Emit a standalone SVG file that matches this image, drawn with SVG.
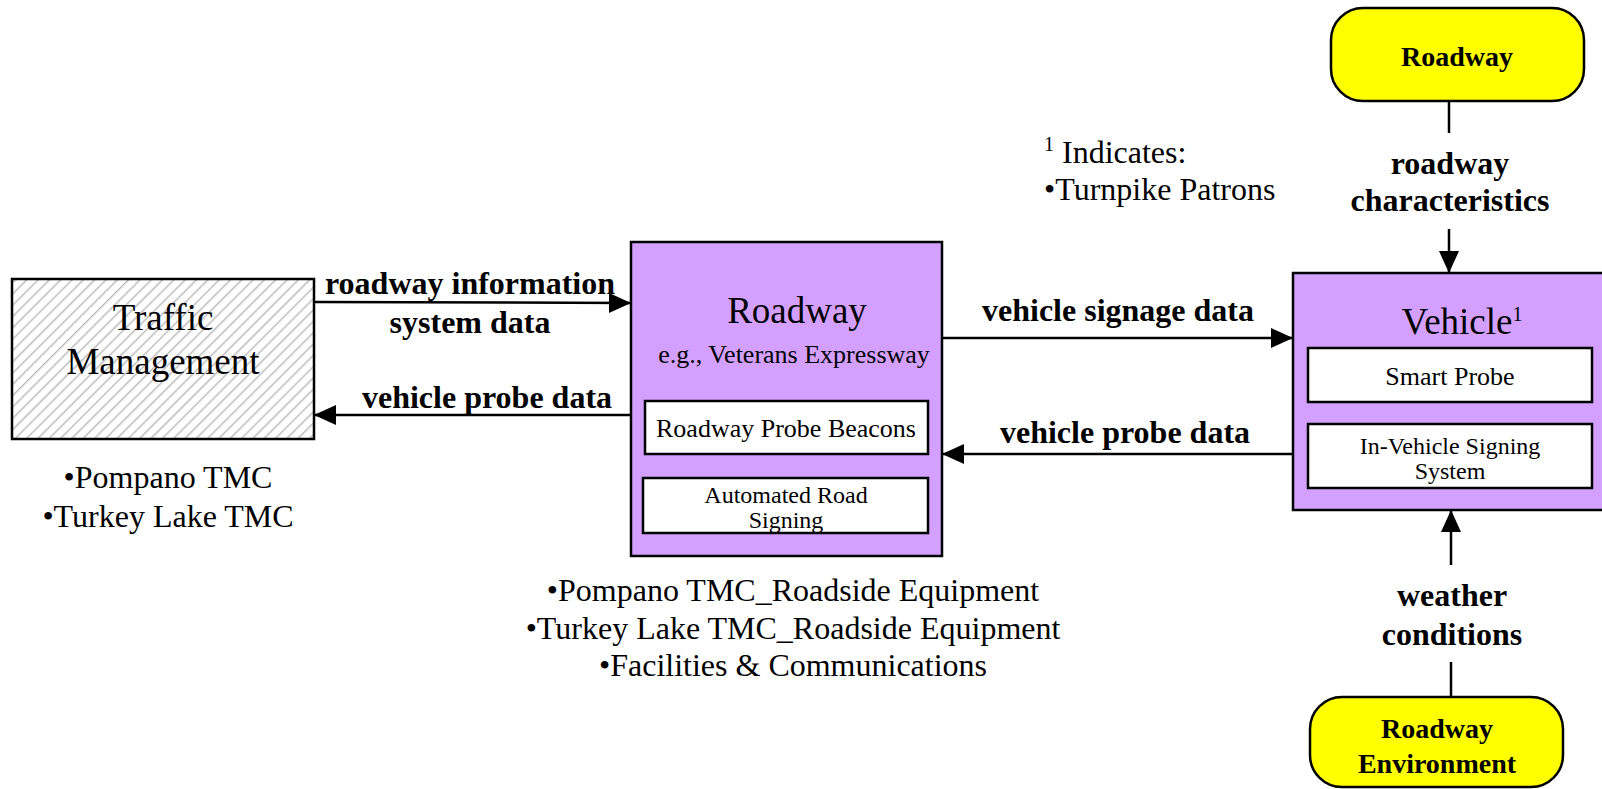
<svg xmlns="http://www.w3.org/2000/svg" width="1602" height="789" viewBox="0 0 1602 789">
<defs>
<style>
text{font-family:"Liberation Serif","Times New Roman",serif;fill:#000}
.hdr{font-size:37px;text-anchor:middle}
.sub{font-size:26px;text-anchor:middle}
.sub2{font-size:24px;text-anchor:middle}
.bul{font-size:32px}
.lbl{font-size:32px;font-weight:bold;text-anchor:middle}
.ext{font-size:28px;font-weight:bold;text-anchor:middle}
.box{stroke:#000;stroke-width:2.5}
.purple{fill:#D4A0FF}
.inner{fill:#fff;stroke:#000;stroke-width:2.5}
.yellow{fill:#FFFF00;stroke:#000;stroke-width:2.5}
.conn{stroke:#000;stroke-width:2.5;fill:none}
</style>
<pattern id="hatch" patternUnits="userSpaceOnUse" width="8" height="8" patternTransform="rotate(45)">
<rect width="8" height="8" fill="#fff"/>
<line x1="0" y1="0" x2="0" y2="8" stroke="#BDBDBD" stroke-width="3"/>
</pattern>
<marker id="arr" markerUnits="userSpaceOnUse" markerWidth="24" markerHeight="20" refX="22" refY="10" orient="auto">
<path d="M0,0 L22,10 L0,20 Z" fill="#000"/>
</marker>
</defs>

<g id="traffic-management">
<rect class="box" x="12" y="279" width="302" height="160" fill="url(#hatch)"/>
<text class="hdr" x="163" y="330">Traffic</text>
<text class="hdr" x="163" y="374">Management</text>
<text class="bul" x="168" y="488" text-anchor="middle">•Pompano TMC</text>
<text class="bul" x="168" y="527" text-anchor="middle">•Turkey Lake TMC</text>
</g>

<g id="roadway">
<rect class="box purple" x="631" y="242" width="311" height="314"/>
<text class="hdr" x="797" y="323">Roadway</text>
<text class="sub" x="794" y="363" font-size="27">e.g., Veterans Expressway</text>
<rect class="inner" x="645" y="401" width="283" height="53"/>
<text class="sub" x="786" y="437">Roadway Probe Beacons</text>
<rect class="inner" x="643" y="478" width="285" height="55"/>
<text class="sub2" x="786" y="503">Automated Road</text>
<text class="sub2" x="786" y="528">Signing</text>
<text class="bul" x="793" y="601" text-anchor="middle">•Pompano TMC_Roadside Equipment</text>
<text class="bul" x="793" y="639" text-anchor="middle">•Turkey Lake TMC_Roadside Equipment</text>
<text class="bul" x="793" y="676" text-anchor="middle">•Facilities &amp; Communications</text>
</g>

<g id="vehicle">
<rect class="box purple" x="1293" y="273" width="320" height="237"/>
<text class="hdr" x="1462" y="334">Vehicle<tspan font-size="20" dy="-13">1</tspan></text>
<rect class="inner" x="1308" y="348" width="284" height="54"/>
<text class="sub" x="1450" y="385">Smart Probe</text>
<rect class="inner" x="1308" y="424" width="284" height="64"/>
<text class="sub2" x="1450" y="454">In-Vehicle Signing</text>
<text class="sub2" x="1450" y="479">System</text>
</g>

<g id="roadway-source">
<rect class="yellow" x="1331" y="8" width="253" height="93" rx="32" ry="32"/>
<text class="ext" x="1457" y="66">Roadway</text>
</g>

<g id="roadway-environment">
<rect class="yellow" x="1310" y="697" width="253" height="90" rx="32" ry="32"/>
<text class="ext" x="1437" y="738">Roadway</text>
<text class="ext" x="1437" y="773">Environment</text>
</g>

<g id="note">
<text class="bul" x="1044" y="163"><tspan font-size="20" dy="-12">1</tspan><tspan dy="12"> Indicates:</tspan></text>
<text class="bul" x="1044" y="200">•Turnpike Patrons</text>
</g>

<g id="connectors">
<line class="conn" x1="314" y1="302" x2="631" y2="303" marker-end="url(#arr)"/>
<text class="lbl" x="470" y="294">roadway information</text>
<text class="lbl" x="470" y="333">system data</text>

<line class="conn" x1="631" y1="415" x2="314" y2="415" marker-end="url(#arr)"/>
<text class="lbl" x="487" y="408">vehicle probe data</text>

<line class="conn" x1="942" y1="338" x2="1293" y2="338" marker-end="url(#arr)"/>
<text class="lbl" x="1118" y="321">vehicle signage data</text>

<line class="conn" x1="1293" y1="454" x2="942" y2="454" marker-end="url(#arr)"/>
<text class="lbl" x="1125" y="443">vehicle probe data</text>

<line class="conn" x1="1449" y1="101" x2="1449" y2="133"/>
<text class="lbl" x="1450" y="174">roadway</text>
<text class="lbl" x="1450" y="211">characteristics</text>
<line class="conn" x1="1449" y1="229" x2="1449" y2="273" marker-end="url(#arr)"/>

<line class="conn" x1="1451" y1="697" x2="1451" y2="662"/>
<text class="lbl" x="1452" y="606">weather</text>
<text class="lbl" x="1452" y="645">conditions</text>
<line class="conn" x1="1451" y1="565" x2="1451" y2="510" marker-end="url(#arr)"/>
</g>
</svg>
